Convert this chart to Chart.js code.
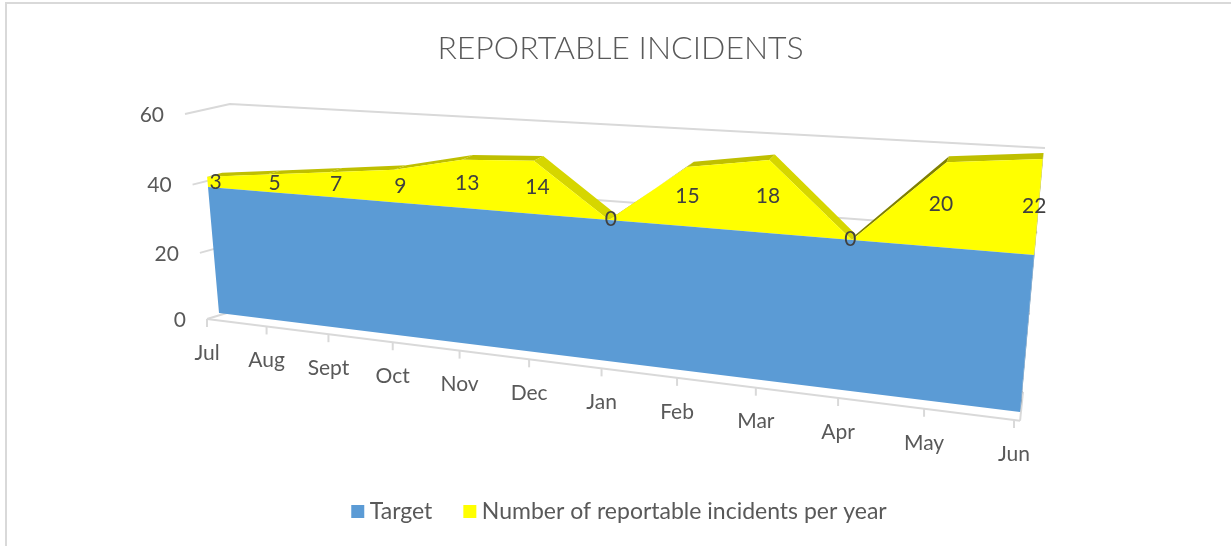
<!DOCTYPE html>
<html>
<head>
<meta charset="utf-8">
<title>Reportable incidents</title>
<script src="https://cdn.jsdelivr.net/npm/chart.js@4/dist/chart.umd.min.js"></script>
<style>
    html, body { margin: 0; padding: 0; background: #fff; overflow: hidden; }
    canvas { display: block; }
</style>
</head>
<body>
<canvas id="incidentsChart" width="1231" height="546"></canvas>
<script>
// chart data
const months = ["Jul", "Aug", "Sept", "Oct", "Nov", "Dec", "Jan", "Feb", "Mar", "Apr", "May", "Jun"];
const targetLevel = [38, 38, 38, 38, 38, 38, 38, 38, 38, 38, 38, 38];
const incidents = [3, 5, 7, 9, 13, 14, 0, 15, 18, 0, 20, 22];
const yTicks = [0, 20, 40, 60];

const textColor = "#595959";
const gridColor = "#d9d9d9";
const blue = "#5b9bd5";
const yellow = "#ffff00";

// builds a perspective mapping: u goes 0..1 along the months, value goes up from 0 to "top"
function makePlane(top, tl, tr, bl, br) {
    const [x0, y0] = bl, [x1, y1] = br, [x2, y2] = tr, [x3, y3] = tl;
    const dx1 = x1 - x2, dx2 = x3 - x2, sx = x0 - x1 + x2 - x3;
    const dy1 = y1 - y2, dy2 = y3 - y2, sy = y0 - y1 + y2 - y3;
    const det = dx1 * dy2 - dx2 * dy1;
    const g = (sx * dy2 - dx2 * sy) / det;
    const h = (dx1 * sy - sx * dy1) / det;
    const a = x1 - x0 + g * x1, b = x3 - x0 + h * x3;
    const d = y1 - y0 + g * y1, e = y3 - y0 + h * y3;
    return (u, value) => {
        const w = value / top;
        const den = g * u + h * w + 1;
        return { x: (a * u + b * w + x0) / den, y: (d * u + e * w + y0) / den };
    };
}

// planes of the 3D box
const frontFace = makePlane(38, [208, 187], [1034, 255], [219, 313], [1020, 412]);
const backFace = makePlane(38, [223, 183], [1035, 249], [234, 309], [1021, 406]);
const labelFace = makePlane(38, [216, 187], [1030, 254], [227, 313], [1016, 411]);
const wallFace = makePlane(60, [230, 104], [1045, 148], [250, 306], [1023, 392]);
const axisFace = makePlane(60, [185, 114], [1038, 166], [207, 319], [1014, 420]);

function polygon(ctx, points, color) {
    ctx.fillStyle = color;
    ctx.beginPath();
    points.forEach((p, i) => (i ? ctx.lineTo(p.x, p.y) : ctx.moveTo(p.x, p.y)));
    ctx.closePath();
    ctx.fill();
}

function segmentLine(ctx, a, b) {
    ctx.beginPath();
    ctx.moveTo(a.x, a.y);
    ctx.lineTo(b.x, b.y);
    ctx.stroke();
}

function stripColor(from, to) {
    const slope = (to.y - from.y) / (to.x - from.x);
    if (slope > 0.2) return "#d6d600"; // going down
    if (slope < -0.4) return "#7f7f00"; // steep climb, only an edge shows
    return "#bfbf00";
}

const box3d = {
    id: "box3d",
    // move the line points from the flat scales onto the tilted front face
    afterDatasetsUpdate(chart) {
        const area = chart.chartArea;
        chart.data.datasets.forEach((ds, index) => {
            chart.getDatasetMeta(index).data.forEach((p) => {
                p.u = (p.x - area.left) / area.width;
                p.value = chart.scales.y.getValueForPixel(p.y);
                const moved = frontFace(p.u, p.value);
                p.x = moved.x;
                p.y = moved.y;
            });
        });
    },
    afterLayout(chart) {
        // legend item spacing comes from labels.padding, which also pushes the row down
        chart.legend.top -= 13;
        chart.legend.bottom -= 13;
        chart.legend.left += 1.5;
        chart.legend.right += 1.5;
    },
    beforeDraw(chart) {
        const ctx = chart.ctx;
        ctx.save();
        ctx.strokeStyle = gridColor;
        ctx.lineWidth = 2;
        ctx.beginPath();
        ctx.moveTo(6, chart.height);
        ctx.lineTo(6, 3);
        ctx.lineTo(chart.width, 3);
        ctx.stroke();
        ctx.restore();
    },
    beforeDatasetsDraw(chart) {
        const ctx = chart.ctx;
        const yScale = chart.scales.y;
        const xScale = chart.scales.x;
        const area = chart.chartArea;
        const target = chart.getDatasetMeta(0).data;
        const total = chart.getDatasetMeta(1).data;
        const uOf = (i) => (xScale.getPixelForValue(i) - area.left) / area.width;

        ctx.save();
        ctx.strokeStyle = gridColor;
        ctx.lineWidth = 2;
        ctx.lineJoin = "round";

        // gridlines: side wall then back wall
        yTicks.forEach((tick) => {
            const value = yScale.getValueForPixel(yScale.getPixelForValue(tick));
            const a = axisFace(0, value), b = wallFace(0, value), c = wallFace(1, value);
            ctx.beginPath();
            ctx.moveTo(a.x, a.y);
            ctx.lineTo(b.x, b.y);
            ctx.lineTo(c.x, c.y);
            ctx.stroke();
            ctx.fillStyle = textColor;
            ctx.font = "21px Lato";
            ctx.textAlign = "right";
            ctx.textBaseline = "middle";
            ctx.fillText(String(tick), a.x - 21, a.y + 1);
        });

        // floor edge, tick marks and month labels
        const floorEnd = axisFace(1.006, 0);
        segmentLine(ctx, axisFace(0, 0), floorEnd);
        segmentLine(ctx, floorEnd, wallFace(1, 0));
        months.forEach((month, i) => {
            const base = axisFace(uOf(i), 0);
            segmentLine(ctx, base, { x: base.x, y: base.y + 8 });
            ctx.fillStyle = textColor;
            ctx.font = "21px Lato";
            ctx.textAlign = "center";
            ctx.textBaseline = "middle";
            ctx.fillText(month, base.x, base.y + 34);
        });

        // top strip of the yellow area
        for (let i = 0; i < total.length - 1; i++) {
            const a = total[i], b = total[i + 1];
            polygon(ctx, [a, b, backFace(b.u, b.value), backFace(a.u, a.value)], stripColor(a, b));
        }

        // right hand side faces
        const last = total.length - 1;
        const endTotal = total[last], endTarget = target[last];
        polygon(ctx, [endTotal, endTarget, backFace(endTarget.u, endTarget.value), backFace(endTotal.u, endTotal.value)], "#a8a800");
        polygon(ctx, [endTarget, frontFace(endTarget.u, 0), backFace(endTarget.u, 0), backFace(endTarget.u, endTarget.value)], "#41719c");

        // yellow band then the blue target face in front
        polygon(ctx, [...total, ...target.slice().reverse()], yellow);
        polygon(ctx, [...target, frontFace(1, 0), frontFace(0, 0)], blue);
        ctx.restore();
    },
    afterDatasetsDraw(chart) {
        const ctx = chart.ctx;
        const target = chart.getDatasetMeta(0).data;
        ctx.save();
        ctx.fillStyle = "#404040";
        ctx.font = "21px Lato";
        ctx.textAlign = "center";
        ctx.textBaseline = "middle";
        incidents.forEach((count, i) => {
            const p = labelFace(target[i].u, target[i].value + count / 2);
            ctx.fillText(String(count), p.x, p.y);
        });
        ctx.restore();
    },
};

new Chart(document.getElementById("incidentsChart"), {
    type: "line",
    data: {
        labels: months,
        datasets: [
            { label: "Target", data: targetLevel, backgroundColor: blue, borderColor: blue },
            { label: "Number of reportable incidents per year", data: incidents, backgroundColor: yellow, borderColor: yellow },
        ],
    },
    options: {
        responsive: false,
        animation: false,
        layout: { padding: { left: 10, top: 10 } },
        elements: {
            line: { borderWidth: 0, tension: 0 },
            point: { radius: 0, hoverRadius: 0 },
        },
        datasets: { line: { clip: false } },
        scales: {
            x: { display: false },
            y: { display: false, stacked: true, min: 0, max: 60, ticks: { stepSize: 20 } },
        },
        plugins: {
            tooltip: { enabled: false },
            title: {
                display: true,
                text: "REPORTABLE INCIDENTS",
                color: textColor,
                font: { family: "Lato", size: 32, weight: "300" },
                padding: { top: 19, bottom: 10 },
            },
            legend: {
                position: "bottom",
                labels: {
                    color: textColor,
                    font: { family: "Lato", size: 23 },
                    boxWidth: 1,
                    boxHeight: 1,
                    padding: 37,
                    // thick outline gives a square swatch close to its text
                    generateLabels: (chart) =>
                        chart.data.datasets.map((ds, i) => ({
                            text: ds.label,
                            fillStyle: ds.backgroundColor,
                            strokeStyle: ds.backgroundColor,
                            lineWidth: 12,
                            fontColor: textColor,
                            datasetIndex: i,
                        })),
                },
            },
        },
    },
    plugins: [box3d],
});
</script>
</body>
</html>
